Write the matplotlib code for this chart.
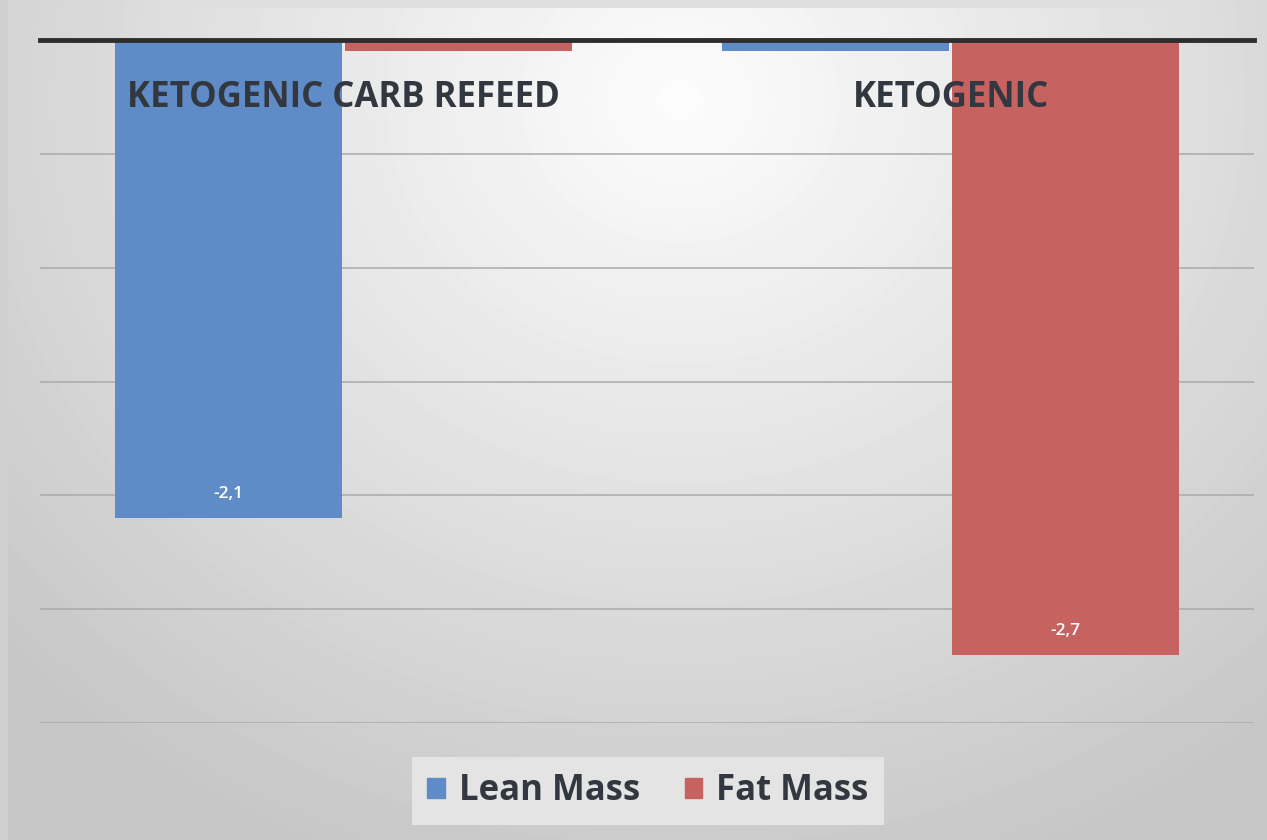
import numpy as np
import matplotlib
matplotlib.use('Agg')
import matplotlib.pyplot as plt
from matplotlib.patches import Patch

categories = ['KETOGENIC CARB REFEED', 'KETOGENIC']
series_names = ['Lean Mass', 'Fat Mass']
lean_mass = [-2.1, -0.05]
fat_mass = [-0.05, -2.7]
yticks = [0, -0.5, -1.0, -1.5, -2.0, -2.5, -3.0]

blue = '#5f8cc6'
red = '#c6625f'
txt = '#333840'

W, H = 1267, 840
fig = plt.figure(figsize=(W / 100, H / 100), dpi=100)

# background: gray gradient, lighter toward the upper centre
bg = fig.add_axes([0, 0, 1, 1])
yy, xx = np.mgrid[0:H, 0:W]
d = np.sqrt(((xx - 680) / 950.0) ** 2 + ((yy - 100) / 850.0) ** 2)
shade = np.clip(0.99 - 0.22 * d, 0.78, 0.99)
shade[:, :8] = 0.81
shade[:8, :] = np.minimum(shade[:8, :], 0.87)
bg.imshow(shade, cmap='gray', vmin=0, vmax=1, aspect='auto', interpolation='bilinear')
bg.axis('off')

ax = fig.add_axes([40 / W, 1 - 723 / H, (1254 - 40) / W, (723 - 40) / H])
ax.patch.set_alpha(0)
x = np.arange(len(categories))
bw = 0.374
b1 = ax.bar(x - bw / 2 - 0.002, lean_mass, bw, color=blue, zorder=2)
b2 = ax.bar(x + bw / 2 + 0.002, fat_mass, bw, color=red, zorder=2)

ax.set_xlim(-0.5, 1.5)
ax.set_ylim(-3, 0)
ax.set_yticks(yticks)
ax.grid(axis='y', color='#aaaaaa', linewidth=1.1, zorder=1)
ax.axhline(0, color='#2e2e2e', linewidth=3.5, zorder=3, clip_on=False)
ax.tick_params(left=False, bottom=False, labelleft=False, labelbottom=False)
for s in ax.spines.values():
    s.set_visible(False)

# category names sit just under the zero line
for xi, name in zip(x, categories):
    ax.text(xi, -0.255, name, ha='center', va='center', fontsize=25,
            fontweight='bold', color=txt, family=['Open Sans', 'DejaVu Sans'], zorder=4)

# value labels on the large bars only
for bars, vals in ((b1, lean_mass), (b2, fat_mass)):
    for rect, v in zip(bars, vals):
        if abs(v) > 1:
            ax.annotate(f'{v:.1f}'.replace('.', ','),
                        (rect.get_x() + rect.get_width() / 2, v),
                        xytext=(0, 17), textcoords='offset points',
                        ha='center', va='center', color='white', fontsize=12.5,
                        fontweight='semibold',
                        family=['Open Sans', 'DejaVu Sans'], zorder=4)

handles = [Patch(color=blue), Patch(color=red)]
leg = fig.legend(handles, series_names, loc='center', bbox_to_anchor=(648 / W, 1 - 791 / H),
                 ncol=2, frameon=True, fancybox=False,
                 prop={'family': ['Open Sans', 'DejaVu Sans'], 'weight': 'bold', 'size': 25},
                 handlelength=0.5, handleheight=0.5, handletextpad=0.4,
                 columnspacing=1.3, borderpad=0.45, borderaxespad=0)
leg.get_frame().set_facecolor('#e4e4e4')
leg.get_frame().set_edgecolor('none')
leg.get_frame().set_alpha(1)
for t in leg.get_texts():
    t.set_color(txt)

fig.savefig('out.png', dpi=100)
